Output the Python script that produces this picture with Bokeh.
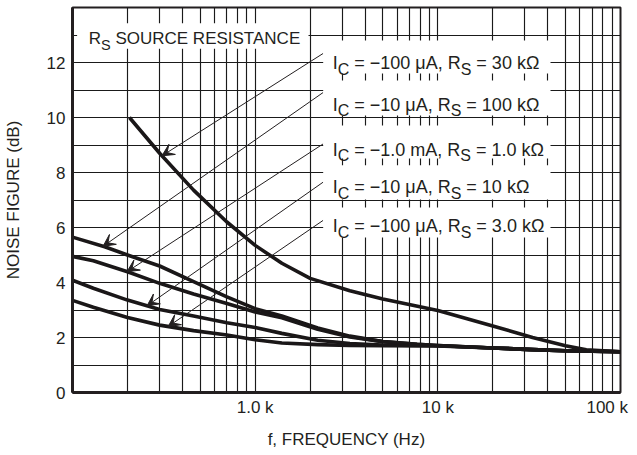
import numpy as np
from bokeh.plotting import figure
from bokeh.models import Range1d, FixedTicker, Label, Arrow, VeeHead, BoxAnnotation
from bokeh.embed import file_html
from bokeh.resources import INLINE

# ---------------- data ----------------
# Ic = -100 uA, Rs = 30 k
freq_30k = [205, 300, 460, 700, 1000, 1400, 2000, 3300, 5000, 10000, 20000, 33000, 50000, 65000, 100000]
nf_30k = [10.0, 8.7, 7.36, 6.2, 5.35, 4.7, 4.15, 3.7, 3.4, 2.98, 2.42, 2.0, 1.7, 1.55, 1.48]
# Ic = -10 uA, Rs = 100 k
freq_100k = [100, 150, 200, 300, 460, 700, 1000, 1400, 2200, 3300, 5000, 7700, 10000, 20000, 33000, 50000, 100000]
nf_100k = [5.65, 5.3, 5.0, 4.6, 4.03, 3.48, 3.05, 2.78, 2.35, 2.05, 1.85, 1.75, 1.71, 1.62, 1.56, 1.52, 1.48]
# Ic = -1.0 mA, Rs = 1.0 k
freq_1k = [100, 130, 200, 300, 460, 700, 1000, 1400, 2200, 3300, 5000, 7700, 10000, 20000, 33000, 50000, 100000]
nf_1k = [4.95, 4.79, 4.39, 3.97, 3.58, 3.24, 2.93, 2.72, 2.3, 2.02, 1.85, 1.75, 1.71, 1.62, 1.56, 1.52, 1.48]
# Ic = -10 uA, Rs = 10 k
freq_10k = [100, 130, 200, 300, 460, 700, 1000, 1400, 2200, 3300, 5000, 10000, 20000, 33000, 50000, 100000]
nf_10k = [4.08, 3.79, 3.36, 3.02, 2.78, 2.54, 2.36, 2.15, 1.9, 1.78, 1.73, 1.7, 1.62, 1.56, 1.52, 1.48]
# Ic = -100 uA, Rs = 3.0 k
freq_3k = [100, 130, 200, 300, 460, 700, 1000, 1400, 2200, 3300, 5000, 10000, 20000, 33000, 50000, 100000]
nf_3k = [3.35, 3.10, 2.73, 2.45, 2.25, 2.09, 1.92, 1.8, 1.74, 1.71, 1.7, 1.69, 1.62, 1.56, 1.52, 1.48]

label_ic = ["\u2212100 \u03bcA", "\u221210 \u03bcA", "\u22121.0 mA", "\u221210 \u03bcA", "\u2212100 \u03bcA"]
label_rs = ["30 k\u03a9", "100 k\u03a9", "1.0 k\u03a9", "10 k\u03a9", "3.0 k\u03a9"]
arrow_tip_freq = [309, 147, 199, 256, 334]

x_ticks = [1000, 10000, 100000]
x_tick_labels = ["1.0 k", "10 k", "100 k\u2007"]
x_minor = [200, 300, 400, 500, 600, 700, 800, 900,
           2000, 3000, 4000, 5000, 6000, 7000, 8000, 9000,
           20000, 30000, 40000, 50000, 60000, 70000, 80000, 90000]
y_ticks = [0, 2, 4, 6, 8, 10, 12]
y_minor = [1, 3, 5, 7, 9, 11, 13]

# ---------------- styling / layout ----------------
INK = "#231f20"
FONT = "Liberation Sans"

p = figure(width=637, height=455, x_axis_type="log",
           x_range=Range1d(100, 100000), y_range=Range1d(0, 14),
           output_backend="svg", toolbar_location=None,
           min_border_left=72, min_border_right=17, min_border_top=7, min_border_bottom=63)
p.background_fill_color = "white"
p.border_fill_color = "white"
p.outline_line_color = INK
p.outline_line_width = 2

xt = FixedTicker(ticks=x_ticks, minor_ticks=x_minor)
yt = FixedTicker(ticks=y_ticks, minor_ticks=y_minor)
p.xaxis.ticker = xt
p.yaxis.ticker = yt
p.xgrid.ticker = xt
p.ygrid.ticker = yt
p.xaxis.major_label_overrides = {t: l for t, l in zip(x_ticks, x_tick_labels)}

for g in (p.xgrid, p.ygrid):
    g.grid_line_color = "#1a1a1a"
    g.grid_line_width = 1.15
    g.grid_line_alpha = 1
    g.minor_grid_line_color = "#1a1a1a"
    g.minor_grid_line_width = 1.15

for ax in (p.xaxis, p.yaxis):
    ax.axis_line_color = INK
    ax.axis_line_width = 3
    ax.major_tick_out = 0
    ax.major_tick_in = 0
    ax.minor_tick_out = 0
    ax.minor_tick_in = 0
    ax.major_label_text_font = FONT
    ax.major_label_text_font_size = "17px"
    ax.major_label_text_color = INK
    ax.axis_label_text_font = FONT
    ax.axis_label_text_font_size = "17px"
    ax.axis_label_text_font_style = "normal"
    ax.axis_label_text_color = INK

p.xaxis.axis_label = "f, FREQUENCY (Hz)"
p.yaxis.axis_label = "NOISE FIGURE (dB)"
p.xaxis.major_label_standoff = 5
p.xaxis.axis_label_standoff = 10
p.yaxis.major_label_standoff = 7
p.yaxis.axis_label_standoff = 21

curves = [(freq_30k, nf_30k), (freq_100k, nf_100k), (freq_1k, nf_1k),
          (freq_10k, nf_10k), (freq_3k, nf_3k)]
for fx, ny in curves:
    p.line(fx, ny, line_width=3.6, line_color="#1a1718", line_join="round")

# ---------------- annotations ----------------
ADV = {' ': 278, '=': 584, '\u2212': 584, '.': 278, ',': 278, '\u03bc': 576, 'A': 667,
       'R': 722, 'k': 500, '\u03a9': 768, 'm': 833, 'I': 278, 'C': 722, 'S': 667,
       'O': 778, 'U': 722, 'E': 667, 'T': 611, 'N': 722}
for d in "0123456789":
    ADV[d] = 556


def tw(s, size):
    return sum(ADV.get(ch, 600) for ch in s) / 1000.0 * size


PX_PER_UNIT = 385 / 14.0
box_left, box_right = 2357, 41380
arrow_start_y = [12.33, 10.91, 9.04, 7.65, 6.26]
base_y = [11.98, 10.47, 8.83, 7.47, 6.04]
box_y = [(11.60, 12.80), (10.07, 11.35), (8.51, 9.71), (7.02, 8.26), (5.64, 6.73)]

for i, (fx, ny) in enumerate(curves):
    tip_f = arrow_tip_freq[i]
    tip_y = float(np.interp(np.log10(tip_f), np.log10(fx), ny))
    p.add_layout(Arrow(x_start=box_left, y_start=arrow_start_y[i], x_end=tip_f, y_end=tip_y,
                       line_color=INK, line_width=1,
                       end=VeeHead(size=12, fill_color=INK, line_color=INK, line_width=1)))

# white boxes behind the labels
p.add_layout(BoxAnnotation(left=106, right=1959, bottom=12.50, top=13.43,
                           fill_color="white", fill_alpha=1, line_color=None, level="annotation"))
for i in range(5):
    b, t = box_y[i]
    p.add_layout(BoxAnnotation(left=box_left, right=box_right, bottom=b, top=t,
                               fill_color="white", fill_alpha=1, line_color=None, level="annotation"))


def add_pieces(x, y, start, pieces):
    off = start
    for txt, size, sub in pieces:
        stripped = txt.lstrip(" ")
        off += tw(txt[:len(txt) - len(stripped)], size)
        yy = y - (6.0 / PX_PER_UNIT if sub else 0)
        p.add_layout(Label(x=x, y=yy, x_offset=off, text=stripped, text_align="left",
                           text_baseline="alphabetic", text_font=FONT,
                           text_font_size=f"{size}px", text_color=INK))
        off += tw(stripped, size)


MAIN, SUB = 18, 16
for i in range(5):
    pieces = [("I", MAIN, False), ("C", SUB, True),
              (" = " + label_ic[i] + ", R", MAIN, False), ("S", SUB, True),
              (" = " + label_rs[i], MAIN, False)]
    add_pieces(box_left, base_y[i], 9.5, pieces)

add_pieces(106, 12.86, 11.6, [("R", 17, False), ("S", 14.5, True),
                              (" SOURCE RESISTANCE", 17, False)])

open("out.html", "w").write(file_html(p, INLINE))
